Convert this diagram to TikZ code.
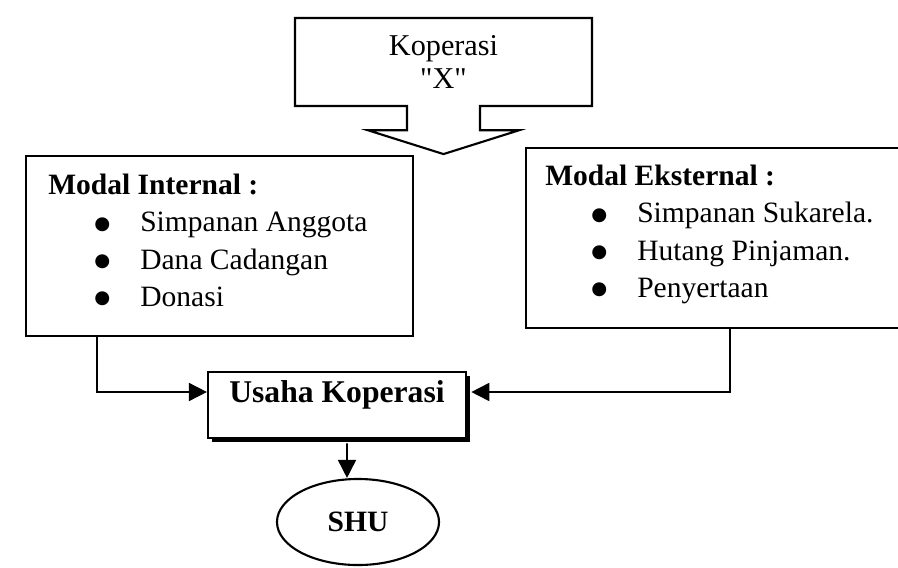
\documentclass[tikz,border=0pt]{standalone}
\usepackage{fontspec}
\setmainfont{Liberation Serif}
\newfontfamily\lurus{Liberation Serif}
\newfontfamily\simbol{DejaVu Sans}
\usepackage{tikz}
\usetikzlibrary{arrows.meta,shapes.geometric,shapes.arrows,shadows}
\newcommand{\butir}[1]{\hspace*{1.15cm}\makebox[1.15cm][l]{\raisebox{1.6pt}{\simbol\fontsize{13}{13}\selectfont ●}}#1}

\begin{document}
\begin{tikzpicture}[x=0.025cm,y=-0.025cm,
  box/.style={draw,line width=1.5pt,rectangle,inner sep=0pt},
  arr/.style={line width=1.2pt,-{Triangle[length=0.45cm,width=0.45cm]}},
  isi/.style={anchor=north west,align=left,inner sep=0pt,font=\fontsize{21}{26.4}\selectfont}]
\useasboundingbox (0,0) rectangle (898,567);
\node[box,arrow box,arrow box arrows={south:1.175cm},arrow box shaft width=1.825cm,
  arrow box head extend=0.975cm,arrow box tip angle=145,minimum width=7.425cm,
  minimum height=2.2cm,align=center,font=\fontsize{21.5}{23.4}\selectfont](kop) at (443.5,62) {Koperasi\\{\lurus"X"}};
\node[box,anchor=north west,minimum width=9.675cm,minimum height=4.5cm](mi) at (25,155) {};
\node[isi](mitext) at (48,174) {\textbf{Modal Internal :}\\\butir{Simpanan Anggota}\\\butir{Dana Cadangan}\\\butir{Donasi}};
\node[box,anchor=north west,minimum width=10cm,minimum height=4.5cm](me) at (525,147) {};
\node[isi](metext) at (545,165) {\textbf{Modal Eksternal :}\\\butir{Simpanan Sukarela.}\\\butir{Hutang Pinjaman.}\\\butir{Penyertaan}};
\node[box,fill=white,drop shadow={shadow xshift=3pt,shadow yshift=-3pt,fill=black,opacity=1},
  minimum width=6.45cm,minimum height=1.65cm,text height=0.5cm,text depth=0.65cm,
  font=\fontsize{22.5}{26}\selectfont\bfseries](usaha) at (337,405) {Usaha Koperasi};
\node[ellipse,draw,line width=1.5pt,inner sep=0pt,minimum width=4.05cm,minimum height=2.15cm,
  font=\fontsize{21}{25}\selectfont\bfseries](shu) at (358,522) {SHU};
\draw[arr] ([xshift=1.8cm]mi.south west) |- ([yshift=0.325cm]usaha.west);
\draw[arr] ([xshift=5.125cm]me.south west) |- ([xshift=3pt,yshift=0.325cm]usaha.east);
\draw[arr] ([xshift=0.25cm,yshift=-3pt]usaha.south) -- ([xshift=-0.275cm]shu.north);
\end{tikzpicture}
\end{document}
